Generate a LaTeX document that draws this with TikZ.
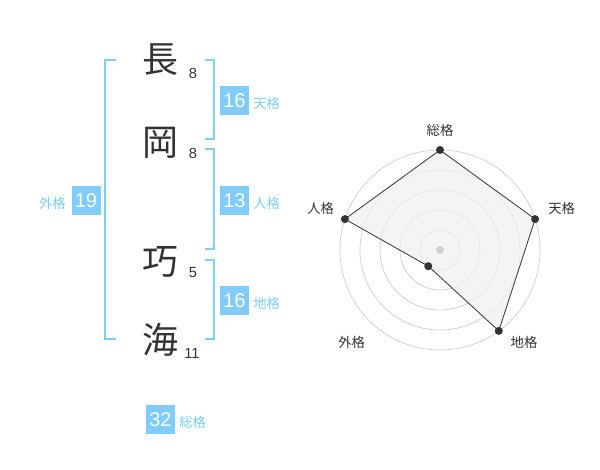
\documentclass[tikz,border=0pt]{standalone}
\usepackage{fontspec}
\setmainfont{Liberation Sans}
\newfontfamily\jpfont{Noto Sans CJK JP}
\definecolor{sky}{RGB}{128,204,255}
\definecolor{ink}{RGB}{51,51,51}
\definecolor{ring}{RGB}{210,210,210}
\definecolor{area}{RGB}{240,240,240}

\begin{document}
\begin{tikzpicture}[x=0.75pt, y=-0.75pt,
    kanji/.style={font=\jpfont\fontsize{27}{27}\selectfont, text=ink, inner sep=0pt},
    strokes/.style={font=\fontsize{11}{11}\selectfont, text=ink, inner sep=0pt},
    score/.style={fill=sky, text=white, font=\fontsize{15}{15}\selectfont, minimum size=21.75pt, inner sep=0pt},
    kaku/.style={font=\jpfont\fontsize{10}{10}\selectfont, text=sky, inner sep=0pt},
    axis/.style={font=\jpfont\fontsize{10}{10}\selectfont, text=ink, inner sep=0pt},
    bracket/.style={sky, line width=1.5pt},
    dot/.style={circle, fill=ink, inner sep=0pt, minimum size=6pt}]
  \useasboundingbox (0,0) rectangle (600,470);

  % name, one character per row
  \node[kanji] (c1) at (160,60) {長};
  \node[kanji] (c2) at (160,143) {岡};
  \node[kanji] (c3) at (160,262) {巧};
  \node[kanji] (c4) at (160,340) {海};

  \node[strokes] (s1) at (193,73) {8};
  \node[strokes] (s2) at (193,153) {8};
  \node[strokes] (s3) at (193,273) {5};
  \node[strokes] (s4) at (192,353) {11};

  % brackets
  \draw[bracket] (116,60) -- (105,60) -- (105,339) -- (116,339);
  \draw[bracket] (205,60) -- (214,60) -- (214,139) -- (205,139);
  \draw[bracket] (205,149) -- (214,149) -- (214,249) -- (205,249);
  \draw[bracket] (205,260) -- (214,260) -- (214,339) -- (205,339);

  % scores
  \node[score] (ten) at (234.5,100.5) {16};
  \node[kaku, anchor=west] (tenl) at (253,103) {天格};
  \node[score] (jin) at (234.5,200.5) {13};
  \node[kaku, anchor=west] (jinl) at (253,203) {人格};
  \node[score] (chi) at (234.5,300.5) {16};
  \node[kaku, anchor=west] (chil) at (253,303) {地格};
  \node[score] (gai) at (86,200.5) {19};
  \node[kaku, anchor=east] (gail) at (66,203) {外格};
  \node[score] (sou) at (160.5,419.5) {32};
  \node[kaku, anchor=west] (soul) at (179,422) {総格};

  % radar
  \begin{scope}[shift={(440,250)}, x=0.75pt, y=0.75pt]
    \foreach \r in {20,40,60,80,100}
      \draw[ring, line width=0.6pt] (0,0) circle (\r);

    \coordinate (p1) at (90:100);
    \coordinate (p2) at (18:100);
    \coordinate (p3) at (-54:100);
    \coordinate (p4) at (-126:20);
    \coordinate (p5) at (162:100);
    \filldraw[fill=area, fill opacity=0.7, draw=ink, line width=0.6pt]
      (p1) -- (p2) -- (p3) -- (p4) -- (p5) -- cycle;
    \fill[ring] (0,0) circle (4);
    \foreach \p in {p1,p2,p3,p4,p5}
      \node[dot] at (\p) {};

    \node[axis] (a1) at (0,120) {総格};
    \node[axis] (a2) at (121.7,42) {天格};
    \node[axis] (a3) at (84,-92) {地格};
    \node[axis] (a4) at (-88.3,-92) {外格};
    \node[axis] (a5) at (-119.3,42) {人格};
  \end{scope}
\end{tikzpicture}
\end{document}
